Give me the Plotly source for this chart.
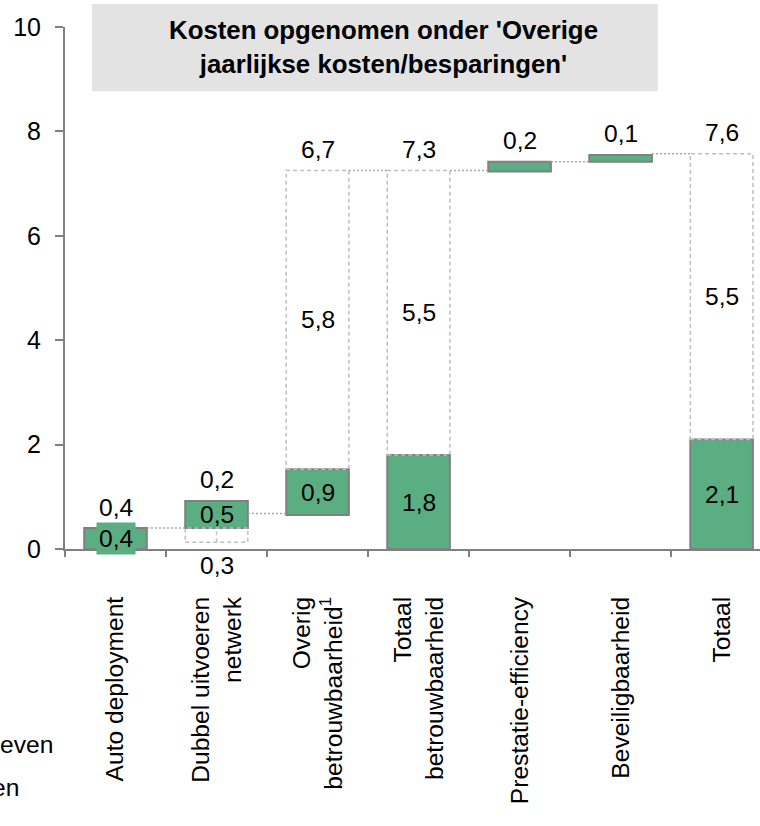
import plotly.graph_objects as go

# ---- data ----
categories = ["Auto deployment", "Dubbel uitvoeren<br>netwerk",
              "Overig<br>betrouwbaarheid<sup>1</sup>", "Totaal<br>betrouwbaarheid",
              "Prestatie-efficiency", "Beveiligbaarheid", "Totaal"]
green_base = [0.0, 0.40, 0.65, 0.0, 7.23, 7.42, 0.0]
green_height = [0.40, 0.52, 0.88, 1.80, 0.19, 0.13, 2.10]
green_labels = ["0,4", "0,5", "0,9", "1,8", "", "", "2,1"]
dashed_low = [None, 0.13, 1.53, 1.80, None, None, 2.10]
dashed_high = [None, 0.40, 7.25, 7.25, None, None, 7.57]
dashed_labels = ["", "", "5,8", "5,5", "", "", "5,5"]
top_labels = ["0,4", "0,2", "6,7", "7,3", "0,2", "0,1", "7,6"]
below_labels = ["", "0,3", "", "", "", "", ""]
connector_levels = [0.40, 0.68, 7.25, 7.25, 7.42, 7.57]
title_lines = ["Kosten opgenomen onder 'Overige", "jaarlijkse kosten/besparingen'"]
side_texts = ["even", "en"]
y_ticks = [0, 2, 4, 6, 8, 10]

GREEN = "#5BAE81"
OUTLINE = "#808080"
DASH = "#BFBFBF"
FONT = "Liberation Sans, Arial, sans-serif"
BW = 0.62  # bar width (category fraction)
FS = 24.6

fig = go.Figure()
fig.add_trace(go.Bar(
    x=list(range(len(categories))), y=green_height, base=green_base, width=BW,
    marker=dict(color=GREEN, line=dict(color=OUTLINE, width=2)),
    hoverinfo="skip", showlegend=False))

shapes = []
annotations = []
n = len(categories)

# title box
shapes.append(dict(type="rect", xref="paper", yref="paper",
                   x0=0.0388, x1=0.853, y0=0.877, y1=1.044,
                   fillcolor="#E3E3E3", line=dict(width=0), layer="below"))
annotations.append(dict(xref="paper", yref="paper", x=0.458, y=0.962,
                        text="<b>" + "<br>".join(title_lines) + "</b>",
                        showarrow=False, font=dict(size=25.8, color="black", family=FONT),
                        xanchor="center", yanchor="middle", align="center"))

for i in range(n):
    top = green_base[i] + green_height[i]
    if dashed_low[i] is not None:
        shapes.append(dict(type="rect", xref="x", yref="y",
                           x0=i - BW / 2, x1=i + BW / 2,
                           y0=dashed_low[i], y1=dashed_high[i],
                           line=dict(color=DASH, width=1.5, dash="4px,3px")))
        if dashed_low[i] < green_base[i]:
            shapes.append(dict(type="line", xref="x", yref="y", x0=i, x1=i,
                               y0=dashed_low[i], y1=dashed_high[i],
                               line=dict(color=DASH, width=1.5, dash="4px,3px")))
        if dashed_labels[i]:
            annotations.append(dict(x=i, y=(dashed_low[i] + dashed_high[i]) / 2,
                                    text=dashed_labels[i], showarrow=False,
                                    font=dict(size=FS, color="black", family=FONT)))
    if green_labels[i]:
        ann = dict(x=i, y=green_base[i] + green_height[i] / 2, text=green_labels[i],
                   showarrow=False, font=dict(size=FS, color="black", family=FONT))
        if i == 0:
            ann.update(bgcolor=GREEN, borderpad=2)
        annotations.append(ann)
    level = top
    if dashed_high[i] is not None and dashed_high[i] > level:
        level = dashed_high[i]
    annotations.append(dict(x=i, y=level, text=top_labels[i], showarrow=False,
                            yshift=21, font=dict(size=FS, color="black", family=FONT)))
    if below_labels[i]:
        annotations.append(dict(x=i, y=dashed_low[i], text=below_labels[i], showarrow=False,
                                yshift=-23, font=dict(size=FS, color="black", family=FONT)))

for i, lv in enumerate(connector_levels):
    shapes.append(dict(type="line", xref="x", yref="y",
                       x0=i + BW / 2, x1=i + 1 - BW / 2, y0=lv, y1=lv,
                       line=dict(color="#A6A6A6", width=1.5, dash="2px,2px")))

# cropped side texts (partially outside the picture, as in the reference)
annotations.append(dict(xref="paper", yref="paper", x=-0.0144, y=-0.375, text=side_texts[0],
                        showarrow=False, xanchor="right", yanchor="middle",
                        font=dict(size=FS, color="black", family=FONT)))
annotations.append(dict(xref="paper", yref="paper", x=-0.064, y=-0.456, text=side_texts[1],
                        showarrow=False, xanchor="right", yanchor="middle",
                        font=dict(size=FS, color="black", family=FONT)))

fig.update_layout(
    width=760, height=826,
    margin=dict(l=65, r=0, t=27, b=277),
    paper_bgcolor="white", plot_bgcolor="white",
    font=dict(family=FONT, size=FS, color="black"),
    shapes=shapes, annotations=annotations,
    xaxis=dict(range=[-0.5, 6.38], tickmode="array",
               tickvals=list(range(n)), ticktext=categories,
               tickangle=-90, showline=True, linecolor=OUTLINE, linewidth=2,
               ticks="", showgrid=False, zeroline=False,
               tickfont=dict(size=FS, color="black", family=FONT),
               ticklabelstandoff=36),
    xaxis2=dict(range=[-0.5, 6.38], overlaying="x", side="bottom", anchor="y",
                tickmode="array", tickvals=[k - 0.5 for k in range(n + 1)],
                showticklabels=False, ticks="outside", ticklen=7,
                tickwidth=2, tickcolor=OUTLINE, showline=False, showgrid=False,
                zeroline=False),
    yaxis=dict(range=[0, 10], tickmode="array", tickvals=y_ticks,
               ticktext=[str(v) for v in y_ticks],
               ticks="outside", ticklen=8, tickwidth=2, tickcolor=OUTLINE,
               showline=True, linecolor=OUTLINE, linewidth=2,
               showgrid=False, zeroline=False,
               tickfont=dict(size=25, color="black", family=FONT),
               ticklabelstandoff=9),
)
fig.add_trace(go.Scatter(x=[0], y=[0], xaxis="x2", mode="markers",
                         marker=dict(opacity=0), hoverinfo="skip", showlegend=False))

fig.write_html("out.html", config={"displayModeBar": False},
               post_script="document.body.style.margin='0';document.body.style.padding='0';")
